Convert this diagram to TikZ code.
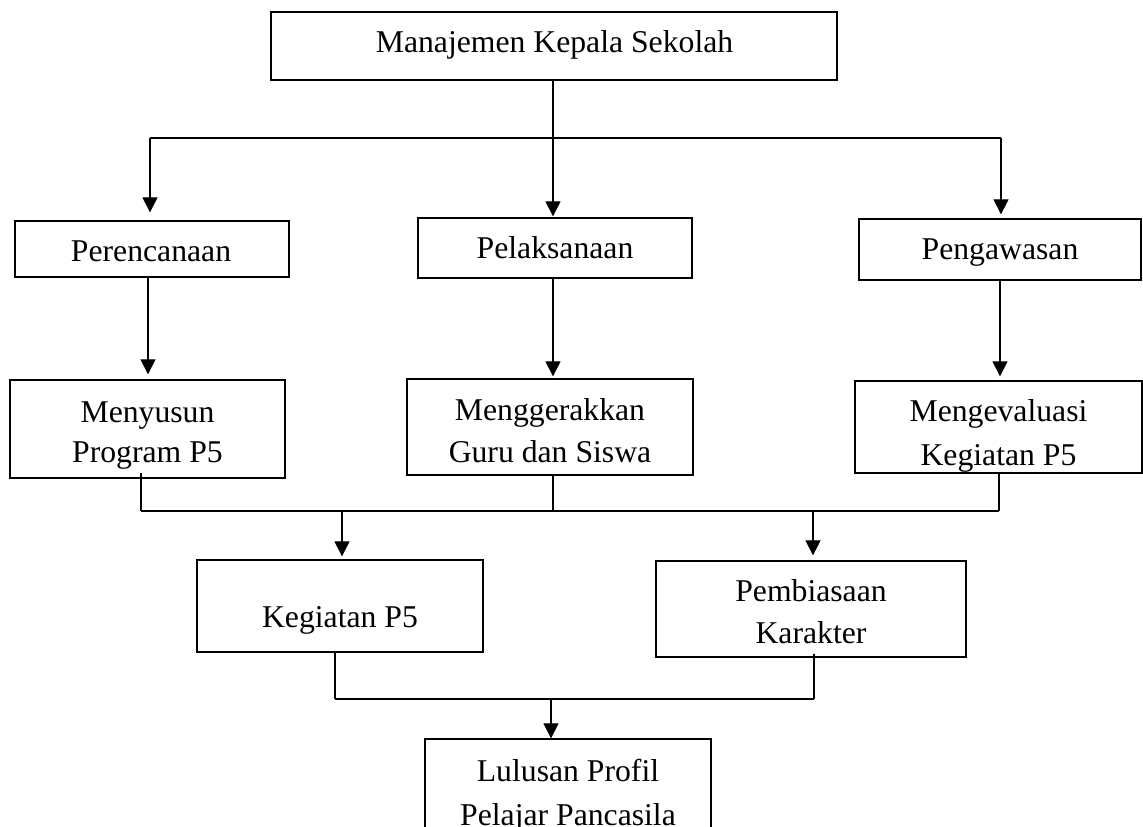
\documentclass[tikz,border=0pt]{standalone}
\usepackage{fontspec}
\setmainfont{Liberation Serif}
\usetikzlibrary{arrows.meta}
\begin{document}
\begin{tikzpicture}[x=1pt,y=-1pt,
  box/.style={draw=black,line width=1.3pt,rectangle,inner sep=0pt},
  txt/.style={font=\fontsize{31.7}{42}\selectfont,anchor=base,inner sep=0pt},
  ln/.style={draw=black,line width=1.2pt},
  arr/.style={ln,-{Triangle[length=15pt,width=15pt]}}]
\useasboundingbox (0,0) rectangle (1143,827);
\clip (0,0) rectangle (1143,827);
\fill[white] (0,0) rectangle (1143,827);
% boxes
\node[box,minimum width=566pt,minimum height=68pt] (top) at (554,46) {};
\node[box,minimum width=274pt,minimum height=56pt] (per) at (152,249) {};
\node[box,minimum width=274pt,minimum height=60pt] (pel) at (555,248) {};
\node[box,minimum width=282pt,minimum height=61pt] (pen) at (1000,249.5) {};
\node[box,minimum width=275pt,minimum height=98pt] (meny) at (147.5,429) {};
\node[box,minimum width=286pt,minimum height=96pt] (meng) at (550,427) {};
\node[box,minimum width=287pt,minimum height=92pt] (meva) at (998.5,427) {};
\node[box,minimum width=286pt,minimum height=92pt] (keg) at (340,606) {};
\node[box,minimum width=310pt,minimum height=96pt] (pemb) at (811,609) {};
\node[box,minimum width=286pt,minimum height=130pt] (lul) at (568,804) {};
% texts
\node[txt] (ttop) at (554.5,52) {Manajemen Kepala Sekolah};
\node[txt] (tper) at (151,261) {Perencanaan};
\node[txt] (tpel) at (555,258) {Pelaksanaan};
\node[txt] (tpen) at (1000,259) {Pengawasan};
\node[txt] (tmeny1) at (147.5,422) {Menyusun};
\node[txt] (tmeny2) at (147.5,462) {Program P5};
\node[txt] (tmeng1) at (550,420) {Menggerakkan};
\node[txt] (tmeng2) at (550,462) {Guru dan Siswa};
\begin{scope}
\clip (855,381) rectangle (1142,472);
\node[txt] (tmeva1) at (998.5,421) {Mengevaluasi};
\node[txt] (tmeva2) at (998.5,465) {Kegiatan P5};
\end{scope}
\node[txt] (tkeg) at (340,627) {Kegiatan P5};
\node[txt] (tpemb1) at (811,601) {Pembiasaan};
\node[txt] (tpemb2) at (811,643) {Karakter};
\node[txt] (tlul1) at (568,781) {Lulusan Profil};
\node[txt] (tlul2) at (568,825) {Pelajar Pancasila};
% connectors level 1
\coordinate (b1) at (553,138);
\coordinate (b1l) at (150,138);
\coordinate (b1r) at (1001,138);
\draw[ln] (top.south -| b1) -- (b1);
\draw[ln] (b1l) -- (b1r);
\draw[arr,shorten >=8pt] (b1l) -- (b1l |- per.north);
\draw[arr,shorten >=1pt] (b1) -- (b1 |- pel.north);
\draw[arr,shorten >=4pt] (b1r) -- (b1r |- pen.north);
% level 2
\coordinate (c1) at (148,277);
\coordinate (c2) at (553,278);
\coordinate (c3) at (1000,280);
\draw[arr,shorten >=5pt] (c1) -- (c1 |- meny.north);
\draw[arr,shorten >=2pt] (c2) -- (c2 |- meng.north);
\draw[arr,shorten >=4pt] (c3) -- (c3 |- meva.north);
% level 3
\coordinate (d1) at (141,511);
\coordinate (d2) at (553,511);
\coordinate (d3) at (999,511);
\coordinate (dk) at (342,511);
\coordinate (dp) at (813,511);
\draw[ln,shorten <=-6pt] (d1 |- meny.south) -- (d1);
\draw[ln] (d2 |- meng.south) -- (d2);
\draw[ln] (d3 |- meva.south) -- (d3);
\draw[ln] (d1) -- (d3);
\draw[arr,shorten >=3pt] (dk) -- (dk |- keg.north);
\draw[arr,shorten >=5pt] (dp) -- (dp |- pemb.north);
% level 4
\coordinate (e1) at (335,699);
\coordinate (e2) at (814,699);
\coordinate (e3) at (551,699);
\draw[ln] (e1 |- keg.south) -- (e1);
\draw[ln,shorten <=-4pt] (e2 |- pemb.south) -- (e2);
\draw[ln] (e1) -- (e2);
\draw[arr] (e3) -- (e3 |- lul.north);
\end{tikzpicture}
\end{document}
